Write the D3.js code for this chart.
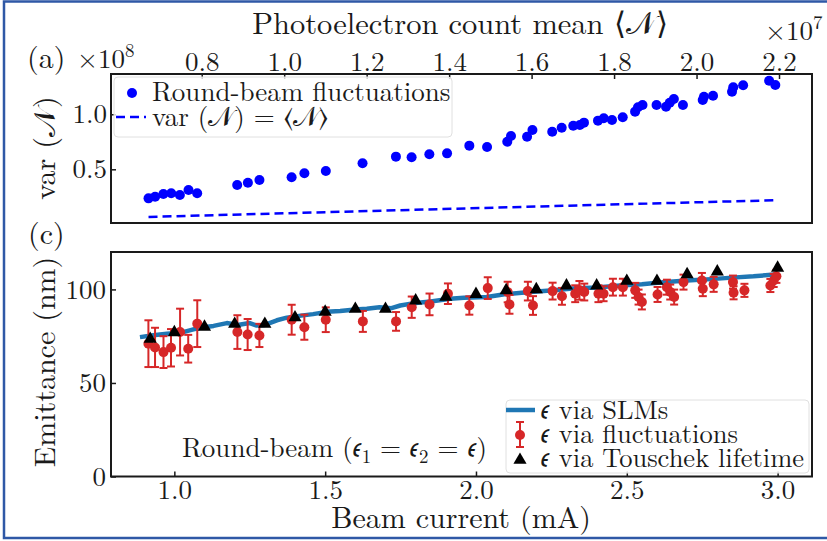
<!DOCTYPE html>
<html>
<head>
<meta charset="utf-8">
<script src="https://cdn.jsdelivr.net/npm/d3@7"></script>
<style>
  body { margin: 0; background: #fff; }
</style>
</head>
<body>
<div class="graph"></div>
<script>
// (a) photoelectron count: mean (x1e7) and variance (x1e8)
const meanVals = [0.671, 0.687, 0.707, 0.726, 0.747, 0.768, 0.789, 0.886, 0.912, 0.940,
  1.018, 1.049, 1.101, 1.190, 1.271, 1.309, 1.352, 1.395, 1.449, 1.492,
  1.541, 1.550, 1.589, 1.602, 1.650, 1.673, 1.701, 1.717, 1.727, 1.761,
  1.775, 1.795, 1.821, 1.851, 1.858, 1.869, 1.903, 1.926, 1.935, 1.945,
  1.967, 2.015, 2.018, 2.040, 2.086, 2.089, 2.113, 2.176, 2.191];
const varVals = [0.236, 0.251, 0.275, 0.282, 0.266, 0.312, 0.282, 0.357, 0.378, 0.403,
  0.427, 0.464, 0.485, 0.555, 0.615, 0.609, 0.636, 0.645, 0.715, 0.703,
  0.751, 0.803, 0.796, 0.857, 0.842, 0.878, 0.896, 0.903, 0.924, 0.942,
  0.964, 0.948, 0.973, 1.024, 1.064, 1.085, 1.085, 1.069, 1.105, 1.139,
  1.085, 1.130, 1.160, 1.169, 1.205, 1.245, 1.264, 1.305, 1.266];
// shot-noise reference var(N) = <N>
const poissonMean = [0.671, 2.191];
const poissonVar = [0.0671, 0.2191];

// (c) emittance vs beam current
const slmCurrent = [0.886, 0.93, 0.975, 1.02, 1.06, 1.085, 1.13, 1.174, 1.21, 1.25,
  1.273, 1.30, 1.34, 1.373, 1.42, 1.46, 1.505, 1.55, 1.60, 1.638,
  1.68, 1.72, 1.749, 1.80, 1.85, 1.914, 1.96, 2.036, 2.10, 2.17,
  2.257, 2.32, 2.40, 2.478, 2.55, 2.62, 2.70, 2.78, 2.85, 2.92, 2.99];
const slmEmit = [74.5, 75.5, 76.3, 76.8, 78.5, 79.5, 80.5, 82.0, 81.0, 82.0,
  80.7, 81.0, 83.5, 84.9, 86.0, 86.8, 88.0, 88.5, 89.3, 89.7,
  90.5, 90.0, 91.4, 92.8, 93.5, 95.0, 95.5, 96.0, 97.5, 98.5,
  99.5, 100.5, 101.0, 102.1, 102.8, 103.8, 104.8, 105.5, 106.3, 107.0, 108.0];

const flucCurrent = [0.914, 0.936, 0.964, 0.989, 1.019, 1.046, 1.076, 1.209, 1.243, 1.282,
  1.389, 1.431, 1.502, 1.625, 1.735, 1.787, 1.846, 1.907, 1.978, 2.039,
  2.105, 2.111, 2.172, 2.189, 2.254, 2.285, 2.329, 2.343, 2.359, 2.406,
  2.423, 2.454, 2.487, 2.528, 2.539, 2.550, 2.602, 2.633, 2.644, 2.657,
  2.688, 2.749, 2.752, 2.788, 2.852, 2.854, 2.890, 2.976, 2.987, 2.996];
const flucEmit = [71.0, 69.0, 66.5, 68.8, 77.2, 68.3, 81.7, 77.2, 75.9, 75.4,
  83.8, 79.8, 83.8, 82.9, 82.9, 90.5, 92.0, 97.7, 91.4, 100.7,
  98.6, 92.0, 99.1, 91.4, 99.1, 96.3, 97.7, 99.5, 98.6, 97.7,
  97.7, 101.2, 101.2, 99.5, 95.9, 93.3, 97.3, 101.2, 98.6, 95.9,
  103.9, 104.8, 100.4, 102.7, 103.9, 98.2, 99.5, 102.1, 104.8, 107.0];
const flucErr = [12.5, 10.5, 8.5, 10.0, 12.5, 7.4, 12.5, 9.0, 8.3, 6.2,
  8.0, 6.7, 6.6, 5.6, 5.0, 5.7, 5.8, 5.5, 4.9, 5.8,
  5.5, 5.0, 5.0, 5.0, 4.5, 4.5, 4.5, 5.0, 4.5, 4.5,
  4.0, 4.5, 4.5, 4.0, 4.0, 4.0, 4.0, 4.0, 4.0, 4.0,
  4.0, 4.0, 4.0, 4.0, 3.5, 3.5, 3.5, 3.5, 3.5, 3.5];

const touCurrent = [0.92, 1.0, 1.1, 1.2, 1.3, 1.4, 1.5, 1.6, 1.7, 1.8,
  1.9, 2.0, 2.1, 2.2, 2.3, 2.4, 2.5, 2.6, 2.7, 2.8, 3.0];
const touEmit = [73.5, 77.0, 80.0, 81.5, 81.5, 85.0, 88.0, 89.5, 89.5, 94.0,
  96.0, 97.5, 99.5, 100.0, 102.0, 102.0, 104.5, 104.5, 108.0, 109.5, 111.5];

// ticks
const meanTicks = [0.8, 1.0, 1.2, 1.4, 1.6, 1.8, 2.0, 2.2];
const varTicks = [0.5, 1.0];
const currentTicks = [1.0, 1.5, 2.0, 2.5, 3.0];
const emitTicks = [0, 50, 100];

const FONT = '"Latin Modern Roman", "Liberation Serif", serif';
const INK = '#1a1a1a';
const EPS = '𝜖';
const width = 827;
const height = 541;
const left = 111, right = 812;
const topA = 74, bottomA = 223;
const topC = 252, bottomC = 476.5;

const svg = d3.select('.graph').append('svg')
  .attr('width', width)
  .attr('height', height);

// outer blue frame
svg.append('rect')
  .attr('x', 4).attr('y', 1.5)
  .attr('width', 840).attr('height', 536.5)
  .attr('fill', 'none')
  .attr('stroke', '#2f58a6')
  .attr('stroke-width', 2.5);

// scales
const xMean = d3.scaleLinear().domain([0.580, 2.280]).range([left, right]);
const yVar = d3.scaleLinear().domain([0.012, 1.366]).range([bottomA, topA]);
const xCur = d3.scaleLinear().domain([0.790, 3.114]).range([left, right]);
const yEm = d3.scaleLinear().domain([0, 120]).range([bottomC, topC]);

// text with italic / sub / sup pieces
function richText(parent, x, y, parts, size, anchor) {
  const t = parent.append('text')
    .attr('x', x).attr('y', y)
    .attr('font-size', size)
    .attr('text-anchor', anchor || 'start')
    .style('font-family', FONT)
    .style('fill', INK);
  let shift = 0;
  parts.forEach(p => {
    const s = t.append('tspan').text(p.t);
    let target = 0;
    if (p.i) s.attr('font-style', 'italic');
    if (p.sub) { target = size * 0.22; s.attr('font-size', size * 0.7); }
    if (p.sup) { target = -size * 0.42; s.attr('font-size', size * 0.7); }
    if (target !== shift) { s.attr('dy', target - shift); shift = target; }
  });
  return t;
}

function styleAxis(g) {
  g.select('.domain').remove();
  g.selectAll('line').attr('stroke', INK).attr('stroke-width', 1.5);
  g.selectAll('text').attr('font-size', 27).style('font-family', FONT).style('fill', INK);
}

// ---------- panel (a) ----------
const gA = svg.append('g');

gA.append('g')
  .attr('transform', `translate(0,${topA})`)
  .call(d3.axisTop(xMean).tickValues(meanTicks).tickSize(-5).tickPadding(3)
    .tickFormat(d3.format('.1f')))
  .call(styleAxis);

gA.append('g')
  .attr('transform', `translate(${left},0)`)
  .call(d3.axisLeft(yVar).tickValues(varTicks).tickSize(-5).tickPadding(4)
    .tickFormat(d3.format('.1f')))
  .call(styleAxis);

// shot-noise line
gA.append('path')
  .datum(d3.zip(poissonMean, poissonVar))
  .attr('fill', 'none')
  .attr('stroke', '#0000ff')
  .attr('stroke-width', 2.5)
  .attr('stroke-dasharray', '9,5')
  .attr('d', d3.line().x(d => xMean(d[0])).y(d => yVar(d[1])));

gA.selectAll('.dot')
  .data(d3.zip(meanVals, varVals))
  .enter().append('circle')
  .attr('class', 'dot')
  .attr('cx', d => xMean(d[0]))
  .attr('cy', d => yVar(d[1]))
  .attr('r', 5)
  .attr('fill', '#0000ff');

gA.append('rect')
  .attr('x', left).attr('y', topA)
  .attr('width', right - left).attr('height', bottomA - topA)
  .attr('fill', 'none').attr('stroke', INK).attr('stroke-width', 2);

// legend (a)
const legA = gA.append('g');
legA.append('rect')
  .attr('x', 114).attr('y', 77).attr('width', 338).attr('height', 60).attr('rx', 4)
  .attr('fill', '#fff').attr('fill-opacity', 0.8)
  .attr('stroke', '#e0e0e0').attr('stroke-width', 1);
legA.append('circle').attr('cx', 132).attr('cy', 93).attr('r', 5).attr('fill', '#0000ff');
legA.append('line')
  .attr('x1', 116).attr('x2', 146).attr('y1', 117).attr('y2', 117)
  .attr('stroke', '#0000ff').attr('stroke-width', 2.5).attr('stroke-dasharray', '9,5');
richText(legA, 152, 101, [{t: 'Round-beam fluctuations'}], 27);
richText(legA, 152, 126, [{t: 'var ('}, {t: '𝒩'}, {t: ') = ⟨'}, {t: '𝒩'}, {t: '⟩'}], 27);

// labels (a)
richText(svg, 460, 34, [{t: 'Photoelectron count mean ⟨'}, {t: '𝒩'}, {t: '⟩'}], 30.5, 'middle');
richText(svg, 27, 68, [{t: '(a)'}], 30);
richText(svg, 77, 68, [{t: '×10'}, {t: '8', sup: true}], 27);
richText(svg, 765, 40, [{t: '×10'}, {t: '7', sup: true}], 27);
richText(svg, 0, 0, [{t: 'var ('}, {t: '𝒩'}, {t: ')'}], 30, 'middle')
  .attr('transform', 'translate(55,148) rotate(-90)');

// ---------- panel (c) ----------
const gC = svg.append('g');

gC.append('g')
  .attr('transform', `translate(0,${bottomC})`)
  .call(d3.axisBottom(xCur).tickValues(currentTicks).tickSize(-5).tickPadding(3)
    .tickFormat(d3.format('.1f')))
  .call(styleAxis);

gC.append('g')
  .attr('transform', `translate(${left},0)`)
  .call(d3.axisLeft(yEm).tickValues(emitTicks).tickSize(-5).tickPadding(5)
    .tickFormat(d3.format('d')))
  .call(styleAxis);

// SLM line
gC.append('path')
  .datum(d3.zip(slmCurrent, slmEmit))
  .attr('fill', 'none')
  .attr('stroke', '#1f77b4')
  .attr('stroke-width', 4.5)
  .attr('stroke-linejoin', 'round')
  .attr('d', d3.line().x(d => xCur(d[0])).y(d => yEm(d[1])));

// fluctuation points with error bars
const fluc = d3.range(flucCurrent.length).map(i => ({x: flucCurrent[i], y: flucEmit[i], e: flucErr[i]}));
const errG = gC.selectAll('.err')
  .data(fluc)
  .enter().append('g')
  .attr('class', 'err')
  .attr('stroke', '#d62728')
  .attr('stroke-width', 2);
errG.append('line')
  .attr('x1', d => xCur(d.x)).attr('x2', d => xCur(d.x))
  .attr('y1', d => yEm(d.y - d.e)).attr('y2', d => yEm(d.y + d.e));
errG.append('line')
  .attr('x1', d => xCur(d.x) - 4).attr('x2', d => xCur(d.x) + 4)
  .attr('y1', d => yEm(d.y - d.e)).attr('y2', d => yEm(d.y - d.e));
errG.append('line')
  .attr('x1', d => xCur(d.x) - 4).attr('x2', d => xCur(d.x) + 4)
  .attr('y1', d => yEm(d.y + d.e)).attr('y2', d => yEm(d.y + d.e));
gC.selectAll('.fdot')
  .data(fluc)
  .enter().append('circle')
  .attr('class', 'fdot')
  .attr('cx', d => xCur(d.x))
  .attr('cy', d => yEm(d.y))
  .attr('r', 5)
  .attr('fill', '#d62728');

// Touschek triangles
const tri = d3.symbol().type(d3.symbolTriangle).size(75);
gC.selectAll('.tri')
  .data(d3.zip(touCurrent, touEmit))
  .enter().append('path')
  .attr('class', 'tri')
  .attr('d', tri)
  .attr('transform', d => `translate(${xCur(d[0])},${yEm(d[1])})`)
  .attr('fill', '#000');

gC.append('rect')
  .attr('x', left).attr('y', topC)
  .attr('width', right - left).attr('height', bottomC - topC)
  .attr('fill', 'none').attr('stroke', INK).attr('stroke-width', 2);

// legend (c)
const legC = gC.append('g');
legC.append('rect')
  .attr('x', 506).attr('y', 400).attr('width', 303).attr('height', 73).attr('rx', 4)
  .attr('fill', '#fff').attr('fill-opacity', 0.8)
  .attr('stroke', '#e0e0e0').attr('stroke-width', 1);
legC.append('line')
  .attr('x1', 506).attr('x2', 535).attr('y1', 410).attr('y2', 410)
  .attr('stroke', '#1f77b4').attr('stroke-width', 4.5);
legC.append('line')
  .attr('x1', 520).attr('x2', 520).attr('y1', 422).attr('y2', 447)
  .attr('stroke', '#d62728').attr('stroke-width', 2);
legC.append('line')
  .attr('x1', 516).attr('x2', 524).attr('y1', 422).attr('y2', 422)
  .attr('stroke', '#d62728').attr('stroke-width', 2);
legC.append('line')
  .attr('x1', 516).attr('x2', 524).attr('y1', 447).attr('y2', 447)
  .attr('stroke', '#d62728').attr('stroke-width', 2);
legC.append('circle').attr('cx', 520).attr('cy', 435).attr('r', 5).attr('fill', '#d62728');
legC.append('path').attr('d', tri).attr('transform', 'translate(520,460)').attr('fill', '#000');
richText(legC, 541, 419, [{t: EPS}, {t: ' via SLMs'}], 26.5);
richText(legC, 541, 443, [{t: EPS}, {t: ' via fluctuations'}], 26.5);
richText(legC, 541, 467, [{t: EPS}, {t: ' via Touschek lifetime'}], 26.5);

// annotation and labels (c)
richText(svg, 182, 457, [{t: 'Round-beam ('}, {t: EPS}, {t: '1', sub: true},
  {t: ' = '}, {t: EPS}, {t: '2', sub: true}, {t: ' = '}, {t: EPS}, {t: ')'}], 27);
richText(svg, 28, 244, [{t: '(c)'}], 30);
richText(svg, 461, 528, [{t: 'Beam current (mA)'}], 30, 'middle');
richText(svg, 0, 0, [{t: 'Emittance (nm)'}], 30, 'middle')
  .attr('transform', 'translate(55,362) rotate(-90)');
</script>
</body>
</html>
